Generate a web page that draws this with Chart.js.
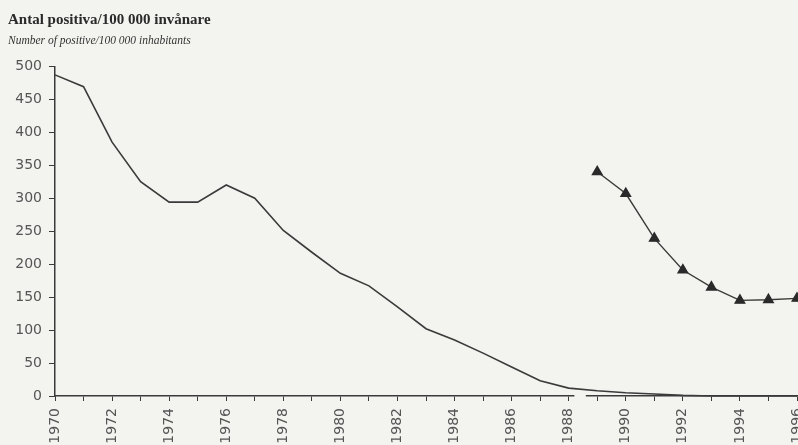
<!DOCTYPE html>
<html>
<head>
<meta charset="utf-8">
<script src="https://cdn.jsdelivr.net/npm/chart.js@4.4.1/dist/chart.umd.min.js"></script>
<style>
  html, body { margin: 0; padding: 0; background: #f3f3f0; }
  #wrap { width: 798px; height: 445px; position: relative; }
</style>
</head>
<body>
<div id="wrap"><canvas id="c" width="798" height="445"></canvas></div>
<script>
// ---- Data ----
const titleText = "Antal positiva/100 000 invånare";
const subtitleText = "Number of positive/100 000 inhabitants";

const years = [1970,1971,1972,1973,1974,1975,1976,1977,1978,1979,1980,1981,1982,1983,
               1984,1985,1986,1987,1988,1989,1990,1991,1992,1993,1994,1995,1996];
const mainValues = [487,469,385,325,294,294,320,300,251,218,186,167,135,102,
                    85,65,44,23,12,8,5,3,1,0,0,0,0];

const triYears = [1989,1990,1991,1992,1993,1994,1995,1996];
const triValues = [340,307,239,191,165,145,146,148];

const yTicks = [0,50,100,150,200,250,300,350,400,450,500];

// ---- Build ----
const mainData = years.map((y, i) => ({ x: y, y: mainValues[i] }));
const triData = triYears.map((y, i) => ({ x: y, y: triValues[i] }));

const ink = '#3a3a3a';
const bg = '#f3f3f0';

const axisBreak = {
  id: 'axisBreak',
  afterDraw(chart) {
    const xs = chart.scales.x, ys = chart.scales.y;
    const ctx = chart.ctx;
    const x0 = xs.getPixelForValue(1988.2);
    const x1 = xs.getPixelForValue(1988.6);
    const yy = ys.getPixelForValue(0);
    ctx.save();
    ctx.fillStyle = bg;
    ctx.fillRect(x0, yy - 2, x1 - x0, 9);
    ctx.restore();
  }
};

new Chart(document.getElementById('c'), {
  type: 'line',
  data: {
    datasets: [
      {
        data: mainData,
        borderColor: ink,
        borderWidth: 1.6,
        pointRadius: 0,
        tension: 0,
        clip: false
      },
      {
        data: triData,
        borderColor: ink,
        borderWidth: 1.4,
        pointStyle: 'triangle',
        pointRadius: 5.5,
        pointBackgroundColor: '#2a2a2a',
        pointBorderColor: '#2a2a2a',
        tension: 0,
        clip: false
      }
    ]
  },
  options: {
    responsive: false,
    animation: false,
    layout: { autoPadding: false, padding: { left: 8, right: 1, top: 4, bottom: 2 } },
    plugins: {
      legend: { display: false },
      tooltip: { enabled: false },
      title: {
        display: true,
        text: titleText,
        align: 'start',
        color: '#2a2a2a',
        font: { family: 'Liberation Serif', size: 15, weight: 'bold' },
        padding: { top: 7, bottom: 2 }
      },
      subtitle: {
        display: true,
        text: subtitleText,
        align: 'start',
        color: '#333',
        font: { family: 'Liberation Serif', size: 11.5, style: 'italic' },
        padding: { top: 3, bottom: 18.5 }
      }
    },
    scales: {
      x: {
        type: 'linear',
        min: years[0],
        max: years[years.length - 1],
        grid: { drawOnChartArea: false, drawTicks: true, tickLength: 5, color: ink, lineWidth: 1 },
        border: { display: true, color: ink, width: 1.5 },
        ticks: {
          stepSize: 1,
          autoSkip: false,
          maxRotation: 90,
          minRotation: 90,
          padding: 7,
          color: '#555',
          font: { family: 'DejaVu Sans', size: 14 },
          callback: (v) => (v % 2 === 0 ? String(v) : '')
        },
        afterFit(scale) {
          scale.paddingLeft = 0;
          scale.paddingRight = 0;
          scale.height = 47;
        }
      },
      y: {
        min: 0,
        max: 500,
        afterBuildTicks(scale) { scale.ticks = yTicks.map(v => ({ value: v })); },
        grid: { drawOnChartArea: false, drawTicks: true, tickLength: 6, color: ink, lineWidth: 1 },
        border: { display: true, color: ink, width: 1.5 },
        ticks: {
          padding: 7,
          color: '#555',
          font: { family: 'DejaVu Sans', size: 14 }
        },
        afterFit(scale) { scale.width = 47; }
      }
    }
  },
  plugins: [axisBreak]
});
</script>
</body>
</html>
